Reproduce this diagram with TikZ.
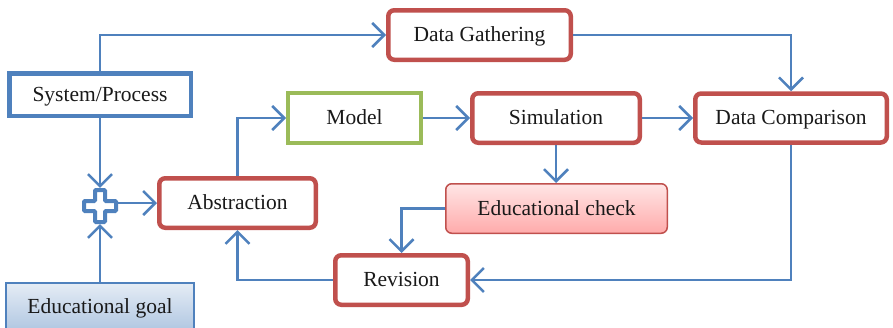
\documentclass[tikz,border=0pt]{standalone}
\usepackage{fontspec}
\setmainfont{Liberation Serif}
\usetikzlibrary{arrows.meta}
\definecolor{rd}{HTML}{C0504D}
\definecolor{bl}{HTML}{4F81BD}
\definecolor{gr}{HTML}{9BBB59}
\begin{document}
\begin{tikzpicture}[x=1pt,y=-1pt,
 font=\fontsize{21.5}{25}\selectfont,
 base/.style={rectangle,inner sep=0pt,fill=white,text=black!90,text depth=0pt,text height=1.3em},
 redbox/.style={base,draw=rd,line width=4.5pt,rounded corners=6pt},
 conn/.style={draw=bl,line width=2.5pt,-{Straight Barb[length=12pt,width=24pt]}},
]
\useasboundingbox (0,0) rectangle (893,327);
\clip (0,0) rectangle (893,327);
% nodes
\node[base,draw=bl,line width=4.5pt,minimum width=181.5pt,minimum height=42.5pt] (sys) at (100,94.5) {System/Process};
\node[redbox,minimum width=182.5pt,minimum height=49.5pt] (dg) at (479.5,35) {Data Gathering};
\node[base,draw=gr,line width=4pt,minimum width=133pt,minimum height=50pt] (model) at (354.5,118) {Model};
\node[redbox,minimum width=167.5pt,minimum height=49.5pt] (sim) at (556,118) {Simulation};
\node[redbox,minimum width=191.5pt,minimum height=49pt] (dc) at (791,118) {Data Comparison};
\node[redbox,minimum width=156.5pt,minimum height=49.5pt] (abs) at (237.5,203) {Abstraction};
\node[base,draw=rd,line width=1.5pt,rounded corners=6pt,top color=red!10,bottom color=red!33!white!100,
  minimum width=221.5pt,minimum height=49.5pt] (ec) at (556.5,208.5) {Educational check};
\node[redbox,minimum width=132.5pt,minimum height=49.5pt] (rev) at (401.5,280) {Revision};
\node[base,draw=bl,line width=1.5pt,top color=bl!15,bottom color=bl!45,
  minimum width=188pt,minimum height=48pt] (eg) at (100,307) {Educational goal};
\node[rectangle,minimum size=36pt,inner sep=0pt] (plus) at (100,206) {};
\draw[bl,line width=4pt,fill=white,rounded corners=1pt,shift={(plus.center)}]
 (-5,-16) -- (5,-16) -- (5,-5) -- (16,-5) -- (16,5) -- (5,5) -- (5,16) -- (-5,16)
 -- (-5,5) -- (-16,5) -- (-16,-5) -- (-5,-5) -- cycle;
% connectors
\draw[conn] (sys.north) |- (dg.west);
\draw[conn] (sys.south) -- (plus.north);
\draw[conn] (eg.north) -- (plus.south);
\draw[conn] (plus.east |- abs.west) -- (abs.west);
\draw[conn] (abs.north) |- (model.west);
\draw[conn] (model.east) -- (sim.west);
\draw[conn] (sim.east) -- (dc.west);
\draw[conn] (dg.east) -| (dc.north);
\draw[conn] (dc.south) |- (rev.east);
\draw[conn] (sim.south) -- (sim.south |- ec.north);
\draw[conn] (ec.west) -| (rev.north);
\draw[conn] (rev.west) -| (abs.south);
\end{tikzpicture}
\end{document}
